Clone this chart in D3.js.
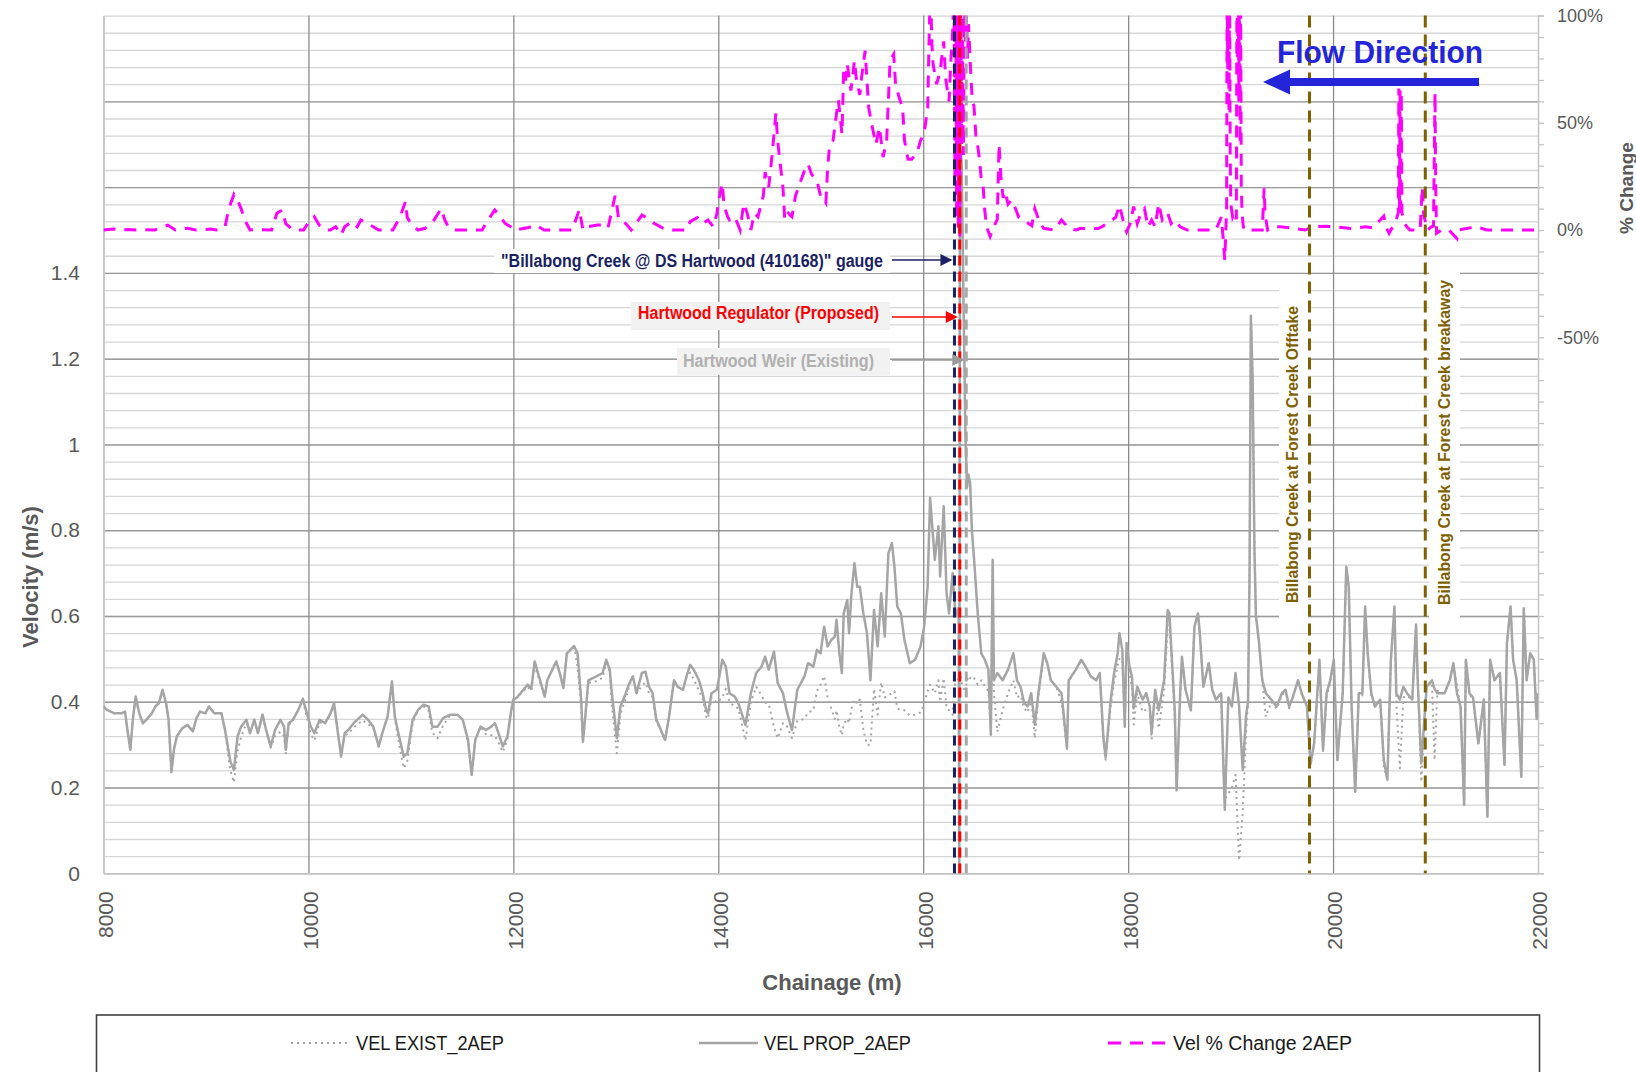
<!DOCTYPE html>
<html>
<head>
<meta charset="utf-8">
<script src="https://cdn.jsdelivr.net/npm/d3@7"></script>
<style>
  body { margin: 0; background: #ffffff; }
  svg { display: block; }
  text { font-family: "Liberation Sans", Arial, sans-serif; }
</style>
</head>
<body>
<svg id="chart" width="1636" height="1072"></svg>
<script>
// ---- Data -------------------------------------------------------------
// Chainage (m) of the velocity profile points
const chainage = [
  8000,8035,8105,8175,8210,8238,8262,8286,8314,8349,8384,8419,8471,8506,8541,8576,8611,8635,8663,8687,
  8715,8768,8820,8872,8907,8942,8994,9029,9081,9151,9186,9238,9273,9308,9343,9395,9430,9472,9507,9552,
  9587,9632,9674,9727,9762,9779,9807,9849,9901,9946,9988,10023,10058,10110,10163,10215,10250,10284,10319,10354,
  10389,10441,10494,10529,10581,10633,10686,10721,10773,10815,10843,10877,10930,10965,11017,11070,11122,11174,11209,11261,
  11314,11384,11454,11506,11558,11593,11628,11680,11733,11785,11820,11855,11897,11942,11980,12000,12035,12140,12175,12208,
  12240,12306,12331,12418,12453,12488,12522,12592,12627,12662,12679,12700,12732,12784,12871,12906,12941,12958,13010,13045,
  13098,13133,13167,13202,13254,13289,13324,13359,13394,13481,13516,13568,13603,13655,13690,13725,13760,13812,13847,13882,
  13900,13934,13986,14039,14074,14109,14161,14196,14265,14318,14370,14422,14457,14492,14544,14579,14631,14666,14719,14771,
  14841,14876,14928,14963,14998,15033,15067,15102,15137,15154,15182,15206,15224,15259,15276,15300,15329,15356,15381,15416,
  15451,15485,15520,15555,15590,15625,15660,15695,15719,15747,15782,15817,15869,15921,15974,16009,16043,16067,16113,16148,
  16165,16200,16228,16252,16287,16310,16330,16346,16352,16358,16375,16395,16412,16428,16440,16458,16475,16497,16532,16567,
  16601,16636,16660,16678,16690,16723,16775,16828,16880,16915,16950,16985,17019,17054,17089,17124,17176,17211,17246,17298,
  17350,17403,17420,17490,17542,17584,17636,17688,17723,17758,17780,17828,17863,17898,17915,17943,17967,17985,18013,18037,
  18054,18089,18142,18176,18211,18229,18264,18298,18351,18386,18403,18420,18455,18473,18508,18525,18560,18612,18647,18682,
  18699,18734,18786,18821,18856,18908,18943,18978,19013,19048,19083,19118,19152,19170,19185,19198,19215,19233,19247,19275,
  19309,19344,19397,19449,19501,19536,19571,19606,19658,19693,19745,19780,19815,19867,19902,19937,19972,20007,20042,20094,
  20129,20153,20181,20216,20251,20286,20313,20338,20373,20408,20460,20495,20530,20564,20599,20617,20652,20686,20721,20773,
  20810,20826,20861,20913,20965,20990,21018,21088,21140,21174,21209,21244,21279,21296,21331,21366,21418,21471,21506,21533,
  21575,21628,21673,21697,21732,21757,21792,21837,21861,21889,21924,21959,21987,22000
];

// VEL PROP_2AEP (m/s)
const velProp = [
  .389,.381,.373,.373,.377,.327,.288,.358,.412,.373,.350,.358,.373,.389,.397,.428,.397,.358,.237,.288,
  .319,.338,.346,.331,.362,.377,.373,.389,.373,.373,.334,.261,.241,.319,.342,.358,.327,.358,.327,.370,
  .334,.296,.334,.358,.342,.288,.350,.358,.381,.407,.370,.342,.327,.358,.350,.373,.397,.334,.272,.327,
  .334,.350,.362,.370,.358,.342,.296,.327,.366,.447,.366,.327,.272,.280,.358,.381,.393,.389,.342,.342,
  .362,.370,.370,.358,.311,.230,.311,.342,.334,.342,.350,.327,.296,.319,.381,.405,.410,.440,.430,.494,
  .467,.412,.450,.494,.467,.432,.513,.530,.513,.404,.307,.360,.450,.456,.467,.498,.475,.428,.315,.389,
  .420,.444,.459,.420,.467,.470,.435,.420,.360,.311,.360,.450,.435,.428,.459,.486,.475,.450,.420,.380,
  .373,.420,.428,.498,.482,.420,.412,.397,.346,.420,.467,.482,.505,.475,.517,.444,.420,.380,.334,.428,
  .459,.490,.482,.521,.513,.575,.529,.544,.552,.591,.513,.467,.606,.637,.560,.653,.723,.668,.668,.606,
  .560,.450,.614,.529,.653,.552,.746,.770,.715,.622,.606,.544,.490,.498,.529,.575,.668,.876,.731,.809,
  .692,.856,.653,.606,.700,.620,.600,.620,0,1.70,1.66,1.30,1.02,.900,.930,.910,.800,.731,.606,.513,
  .498,.475,.323,.731,.450,.467,.450,.475,.513,.450,.435,.397,.389,.420,.346,.420,.513,.490,.450,.435,
  .420,.292,.450,.475,.498,.482,.459,.450,.467,.319,.270,.400,.467,.513,.560,.521,.342,.537,.482,.459,
  .385,.435,.405,.420,.389,.327,.428,.380,.450,.614,.606,.529,.380,.195,.420,.505,.428,.380,.575,.606,
  .560,.435,.490,.428,.405,.420,.148,.410,.389,.467,.389,.241,.370,.400,.700,1.30,1.15,.750,.600,.544,
  .450,.420,.405,.389,.420,.428,.389,.410,.450,.420,.389,.256,.303,.498,.288,.420,.450,.498,.264,.420,
  .715,.668,.389,.190,.420,.420,.622,.513,.420,.389,.405,.264,.218,.498,.622,.420,.405,.435,.420,.405,
  .580,.450,.256,.435,.450,.430,.420,.420,.450,.490,.420,.389,.160,.498,.420,.410,.303,.405,.132,.498,
  .450,.467,.253,.537,.622,.498,.450,.225,.618,.450,.513,.498,.360,.420
];

// VEL EXIST_2AEP (m/s)
const velExist = [
  .389,.381,.373,.373,.377,.325,.285,.358,.410,.373,.350,.358,.373,.389,.397,.425,.392,.356,.232,.285,
  .318,.338,.345,.331,.362,.377,.373,.389,.373,.373,.330,.240,.212,.285,.318,.350,.327,.358,.327,.370,
  .334,.293,.320,.330,.320,.280,.345,.358,.381,.405,.360,.325,.310,.352,.350,.373,.393,.335,.278,.322,
  .325,.340,.350,.357,.348,.337,.296,.327,.366,.447,.362,.312,.245,.262,.350,.381,.390,.378,.328,.315,
  .345,.368,.370,.358,.305,.228,.311,.342,.324,.322,.320,.305,.283,.312,.376,.405,.410,.435,.425,.485,
  .460,.412,.450,.494,.467,.432,.513,.530,.480,.386,.307,.355,.445,.445,.456,.490,.470,.400,.280,.372,
  .408,.440,.459,.420,.437,.445,.420,.410,.355,.311,.360,.450,.435,.428,.459,.468,.452,.425,.408,.365,
  .360,.410,.398,.410,.430,.400,.388,.385,.310,.400,.435,.415,.398,.395,.340,.315,.350,.345,.315,.355,
  .360,.375,.380,.425,.440,.460,.410,.385,.360,.380,.340,.322,.348,.360,.350,.385,.405,.395,.405,.335,
  .300,.300,.430,.370,.445,.410,.415,.420,.425,.385,.380,.380,.368,.370,.375,.395,.425,.440,.420,.450,
  .400,.455,.385,.380,.370,.440,.450,.455,.450,.470,.445,.430,.430,.450,.460,.455,.460,.455,.440,.450,
  .435,.425,.330,.720,.420,.330,.380,.420,.450,.410,.415,.385,.375,.408,.315,.410,.510,.490,.450,.435,
  .400,.290,.448,.475,.498,.482,.459,.450,.462,.312,.265,.385,.445,.485,.500,.500,.345,.530,.465,.435,
  .347,.420,.376,.382,.382,.312,.420,.338,.425,.570,.580,.515,.363,.190,.413,.500,.428,.380,.575,.606,
  .560,.435,.490,.428,.405,.396,.172,.185,.200,.230,.030,.140,.330,.400,.700,1.30,1.15,.750,.600,.544,
  .450,.365,.400,.384,.414,.428,.385,.410,.450,.420,.389,.252,.300,.490,.285,.412,.445,.490,.264,.420,
  .715,.665,.386,.190,.420,.415,.612,.510,.415,.389,.400,.248,.218,.498,.600,.400,.245,.410,.414,.405,
  .580,.450,.213,.435,.445,.264,.425,.420,.450,.490,.438,.389,.160,.495,.418,.405,.300,.405,.132,.498,
  .450,.467,.253,.537,.622,.498,.450,.225,.618,.450,.513,.498,.360,.420
];

// Vel % Change 2AEP (secondary axis)
const pctChainage = [
  8000,8100,8160,8240,8320,8380,8500,8560,8628,8700,8760,8820,8900,9000,9050,9100,9186,9221,9273,9308,
  9343,9378,9430,9500,9640,9692,9744,9779,9814,9849,9953,10005,10057,10109,10162,10214,10266,10319,10354,10423,
  10476,10511,10580,10633,10685,10825,10877,10912,10947,10964,10999,11069,11139,11191,11226,11296,11331,11365,11417,11696,
  11731,11818,11870,11922,11974,12009,12150,12218,12300,12455,12575,12644,12662,12679,12714,12819,12871,12923,12993,13010,
  13028,13098,13150,13255,13307,13377,13464,13551,13690,13725,13795,13847,13899,13952,13987,14004,14039,14056,14091,14109,
  14161,14213,14248,14283,14318,14353,14387,14440,14457,14492,14527,14562,14579,14597,14631,14649,14684,14719,14754,14788,
  14841,14876,14910,14963,14998,15050,15067,15085,15120,15154,15172,15207,15224,15242,15259,15294,15329,15346,15381,15398,
  15433,15468,15503,15538,15573,15608,15643,15677,15712,15730,15764,15799,15817,15852,15887,15939,15974,16009,16044,16061,
  16071,16085,16096,16131,16165,16200,16218,16252,16270,16287,16300,16310,16318,16326,16334,16342,16350,16358,16366,16374,
  16382,16392,16402,16412,16422,16432,16442,16462,16479,16495,16514,16530,16549,16570,16584,16601,16619,16653,16688,16723,
  16740,16758,16780,16800,16828,16863,16900,16932,17002,17060,17089,17141,17176,17281,17350,17420,17490,17532,17706,17741,
  17793,17845,17880,17915,17950,17985,18020,18054,18089,18124,18159,18194,18229,18264,18298,18333,18386,18420,18455,18508,
  18577,18856,18909,18926,18943,18961,18966,18972,18978,18984,18990,18996,19002,19020,19040,19056,19062,19068,19074,19080,
  19086,19092,19098,19104,19112,19121,19130,19187,19309,19327,19337,19362,19414,19484,19588,19728,19798,19937,20007,20181,
  20320,20390,20495,20530,20547,20617,20636,20642,20648,20654,20660,20666,20672,20685,20700,20720,20750,20850,20870,20885,
  20920,20960,20980,20995,21002,21010,21060,21130,21209,21225,21300,21400,21500,21800,22000
];
const pctChange = [
  0,0.5,0,0.3,0,0.2,0,1,2.3,0,0.5,0.8,0,0.2,0.5,0,1.5,9.6,16.6,14,
  10,4.7,0,0.2,0,7.8,9.3,3,1.5,0,0,3.9,6.2,2,0,0,1.5,-2.3,1.5,3.9,
  1.5,4.7,3,1.5,0,0,4.7,8.5,13.2,6,3,0,0.8,3,4.7,10,4.7,1.5,0,0,
  3,9.3,6.2,3,1.5,0,1.2,2.3,0,0,0,9.6,4.7,0,1.5,2.3,2.3,0.8,16,11.6,
  4.7,3,0,7,5.5,3,0.8,0,0,3.9,5.8,3,4.7,1.5,7.8,14,21.8,11.6,6.2,4.7,
  6.2,0,12.4,7.8,0,7.8,6.2,16,27,20,35.8,54.5,42,34,20,4.7,7.8,6.2,16,20.6,
  27.7,30.8,26,23,16,12.5,29,38.6,41.7,54.5,60.6,44.8,74.4,69.7,77.5,65,79,71,63,71,
  83.6,57,48,40,48,34,41.7,79,82,68,62,57,42,33,33,35.8,41.7,45,57,97.7,
  112,86.8,77.5,68,74,88,71,60,79,92,112,25,115,5,110,0,120,-3,112,40,
  115,35,105,88,100,80,96,75,60,58,44,40,33,22,21,9,1.5,-3,1.5,5,
  40,25,15,18,12,14,10,6,3.9,2,10,3,0.8,0,4.7,0.8,0,0.7,0.7,1.5,
  3,4.7,6,11.6,4.7,-0.8,3,11,3,7.8,10,1.5,4.7,1.5,12.4,4.7,7.8,3,4.7,1.5,
  0,0,6,-3,-14,10,118,75,120,55,118,35,12,6,8,5,120,80,122,60,
  120,40,112,20,8,3,0,0,0,19.5,7,0,1.5,1.5,1,0,1.5,1.8,1.5,0.7,
  1.5,1,6.5,0,-1.5,4.7,8,66,10,66,6,64,8,6,3,1.5,0,0,20,7,
  0,1.5,2,64,20,-1.5,0,0,-4,0,0.7,1.5,0,0,0
];

// Axis ticks and labels
const chainageTicks = [8000, 10000, 12000, 14000, 16000, 18000, 20000, 22000];
const velTickLabels = [0, 0.2, 0.4, 0.6, 0.8, 1, 1.2, 1.4];
const pctTickLabels = [-50, 0, 50, 100];

// Reference locations along the creek (chainage, m)
const structureNames = ['"Billabong Creek @ DS Hartwood (410168)" gauge', "Hartwood Regulator (Proposed)", "Hartwood Weir (Existing)"];
const structureChainage = [16305, 16357, 16420];
const siteNames = ["Billabong Creek at Forest Creek Offtake", "Billabong Creek at Forest Creek breakaway"];
const siteChainage = [19770, 20900];

const seriesNames = ["VEL EXIST_2AEP", "VEL PROP_2AEP", "Vel % Change 2AEP"];

// ---- Layout -----------------------------------------------------------
const svg = d3.select("#chart");
const plot = { left: 103.5, right: 1538, top: 15.6, bottom: 873.3 };
const pw = plot.right - plot.left, ph = plot.bottom - plot.top;
const axisGrey = "#595959";

const x = d3.scaleLinear().domain([8000, 22000]).range([plot.left, plot.right]);
const yVel = d3.scaleLinear().domain([0, 2]).range([plot.bottom, plot.top]);
const yPct = d3.scaleLinear().domain([-300, 100]).range([plot.bottom, plot.top]);

svg.append("rect").attr("width", 1636).attr("height", 1072).attr("fill", "#fff");

// ---- Gridlines --------------------------------------------------------
const gMinor = svg.append("g").attr("transform", `translate(${plot.left},0)`)
  .call(d3.axisLeft(yVel).tickValues(d3.range(0, 51).map(i => i * 0.04)).tickSize(-pw).tickFormat(""));
gMinor.select(".domain").remove();
gMinor.selectAll("line").attr("stroke", "#d6d6d6").attr("stroke-width", 1.3);

const gMajor = svg.append("g").attr("transform", `translate(${plot.left},0)`)
  .call(d3.axisLeft(yVel).tickValues(d3.range(1, 10).map(i => i * 0.2)).tickSize(-pw).tickFormat(""));
gMajor.select(".domain").remove();
gMajor.selectAll("line").attr("stroke", "#9c9c9c").attr("stroke-width", 1.4);

const gVert = svg.append("g").attr("transform", `translate(0,${plot.bottom})`)
  .call(d3.axisBottom(x).tickValues(chainageTicks.slice(1, -1)).tickSize(-ph).tickFormat(""));
gVert.select(".domain").remove();
gVert.selectAll("line").attr("stroke", "#8c8c8c").attr("stroke-width", 1.3);

// ---- Axes -------------------------------------------------------------
const gLeft = svg.append("g").attr("transform", `translate(${plot.left},0)`)
  .call(d3.axisLeft(yVel).tickValues(velTickLabels).tickSize(0).tickPadding(23.5).tickFormat(d3.format("")));
gLeft.select(".domain").attr("stroke", "#c4c4c4").attr("stroke-width", 1.8);
gLeft.selectAll("text").attr("font-size", 21).attr("fill", axisGrey).attr("font-family", "Liberation Sans, Arial, sans-serif");

const gBottom = svg.append("g").attr("transform", `translate(0,${plot.bottom})`)
  .call(d3.axisBottom(x).tickValues(chainageTicks).tickSize(0).tickFormat(d3.format("d")));
gBottom.select(".domain").attr("stroke", "#c4c4c4").attr("stroke-width", 1.8);
gBottom.selectAll("text")
  .attr("transform", "rotate(-90)").attr("x", -18).attr("y", 1.5).attr("dy", "0.35em")
  .attr("text-anchor", "end").attr("font-size", 21).attr("fill", axisGrey)
  .attr("font-family", "Liberation Sans, Arial, sans-serif");

const gRight = svg.append("g").attr("transform", `translate(${plot.right},0)`)
  .call(d3.axisRight(yPct).tickValues(d3.range(-300, 101, 10)).tickSize(6).tickPadding(13)
    .tickFormat(d => pctTickLabels.includes(d) ? d + "%" : ""));
gRight.select(".domain").attr("stroke", "#c4c4c4").attr("stroke-width", 1.5);
gRight.selectAll("line").attr("stroke", "#c4c4c4").attr("stroke-width", 1.3);
gRight.selectAll("text").attr("font-size", 18).attr("fill", axisGrey).attr("font-family", "Liberation Sans, Arial, sans-serif");

// Axis titles
svg.append("text").attr("transform", "translate(30,577) rotate(-90)")
  .attr("text-anchor", "middle").attr("dy", "0.35em")
  .attr("font-size", 22).attr("font-weight", "bold").attr("fill", axisGrey).text("Velocity (m/s)");
svg.append("text").attr("x", 832).attr("y", 990)
  .attr("text-anchor", "middle").attr("font-size", 22).attr("font-weight", "bold").attr("fill", axisGrey).text("Chainage (m)");
svg.append("text").attr("transform", "translate(1626,188) rotate(-90)")
  .attr("text-anchor", "middle").attr("dy", "0.35em")
  .attr("font-size", 19).attr("font-weight", "bold").attr("fill", axisGrey).text("% Change");

// ---- Site label boxes (behind the series) --------------------------------
const siteBoxes = [{ x: 1279, y: 288, w: 29, h: 334 }, { x: 1429, y: 268, w: 31, h: 354 }];
siteBoxes.forEach(b => svg.append("rect").attr("x", b.x).attr("y", b.y).attr("width", b.w).attr("height", b.h).attr("fill", "#fff"));

// ---- Series -----------------------------------------------------------
svg.append("clipPath").attr("id", "plotClip").append("rect")
  .attr("x", plot.left).attr("y", plot.top).attr("width", pw).attr("height", ph);
const gSeries = svg.append("g").attr("clip-path", "url(#plotClip)");

const velLine = d3.line().x((d, i) => x(chainage[i])).y(d => yVel(d));
const pctLine = d3.line().x((d, i) => x(pctChainage[i])).y(d => yPct(d));

gSeries.append("path").datum(velExist).attr("d", velLine)
  .attr("fill", "none").attr("stroke", "#a5a5a5").attr("stroke-width", 2)
  .attr("stroke-dasharray", "2,4").attr("stroke-linejoin", "round");
gSeries.append("path").datum(velProp).attr("d", velLine)
  .attr("fill", "none").attr("stroke", "#a5a5a5").attr("stroke-width", 2.5)
  .attr("stroke-linejoin", "round");
gSeries.append("path").datum(pctChange).attr("d", pctLine)
  .attr("fill", "none").attr("stroke", "#ff00ff").attr("stroke-width", 3)
  .attr("stroke-dasharray", "12,9");

// ---- Structure and site markers ----------------------------------------
const structureColours = ["#1b1f63", "#ff0000", "#a6a6a6"];
structureChainage.forEach((c, i) => {
  svg.append("line").attr("x1", x(c)).attr("x2", x(c)).attr("y1", plot.top).attr("y2", plot.bottom)
    .attr("stroke", structureColours[i]).attr("stroke-width", 3).attr("stroke-dasharray", "10,6");
});
siteChainage.forEach(c => {
  svg.append("line").attr("x1", x(c)).attr("x2", x(c)).attr("y1", plot.top).attr("y2", plot.bottom)
    .attr("stroke", "#7f6000").attr("stroke-width", 3).attr("stroke-dasharray", "12,7");
});

// Site labels
const siteText = [{ cx: 1292, bottom: 603, len: 297 }, { cx: 1444, bottom: 605, len: 325 }];
siteNames.forEach((name, i) => {
  const s = siteText[i];
  svg.append("text").attr("transform", `translate(${s.cx},${s.bottom}) rotate(-90)`)
    .attr("dy", "0.36em").attr("font-size", 17).attr("font-weight", "bold").attr("fill", "#7f6000")
    .attr("textLength", s.len).attr("lengthAdjust", "spacingAndGlyphs").text(name);
});

// Structure call-outs
const callouts = [
  { box: [494, 249, 396, 24], boxFill: "#ffffff", textX: 883, textY: 261, len: 382, anchor: "end", colour: "#1b1f63", arrowY: 260 },
  { box: [631, 302, 259, 28], boxFill: "#f2f2f2", textX: 638, textY: 313, len: 241, anchor: "start", colour: "#ff0000", arrowY: 317 },
  { box: [677, 348, 213, 27], boxFill: "#f2f2f2", textX: 683, textY: 361, len: 191, anchor: "start", colour: "#b0b0b0", arrowY: 360 }
];
callouts.forEach((c, i) => {
  svg.append("rect").attr("x", c.box[0]).attr("y", c.box[1]).attr("width", c.box[2]).attr("height", c.box[3]).attr("fill", c.boxFill);
  svg.append("text").attr("x", c.textX).attr("y", c.textY).attr("dy", "0.36em")
    .attr("text-anchor", c.anchor).attr("font-size", 18).attr("font-weight", "bold").attr("fill", c.colour)
    .attr("textLength", c.len).attr("lengthAdjust", "spacingAndGlyphs").text(structureNames[i]);
  const tip = x(structureChainage[i]) - 2;
  svg.append("line").attr("x1", 892).attr("x2", tip - 10).attr("y1", c.arrowY).attr("y2", c.arrowY)
    .attr("stroke", i === 2 ? "#9a9a9a" : c.colour).attr("stroke-width", 1.6);
  svg.append("path")
    .attr("d", `M${tip},${c.arrowY} L${tip - 12},${c.arrowY - 6} L${tip - 12},${c.arrowY + 6} Z`)
    .attr("fill", i === 2 ? "#9a9a9a" : c.colour);
});

// Flow direction
const flowBlue = "#2424d8";
svg.append("text").attr("x", 1277).attr("y", 63).attr("font-size", 32).attr("font-weight", "bold")
  .attr("fill", flowBlue).attr("textLength", 206).attr("lengthAdjust", "spacingAndGlyphs").text("Flow Direction");
svg.append("rect").attr("x", 1287).attr("y", 78).attr("width", 192).attr("height", 8).attr("fill", flowBlue);
svg.append("path").attr("d", "M1263,82 L1290,69.5 L1290,94.5 Z").attr("fill", flowBlue);

// ---- Legend -----------------------------------------------------------
svg.append("rect").attr("x", 96.5).attr("y", 1015).attr("width", 1443).attr("height", 80)
  .attr("fill", "#fff").attr("stroke", "#404040").attr("stroke-width", 1.6);
const legendY = 1043;
const legendItems = [
  { x1: 291, x2: 348, tx: 356, len: 148, stroke: "#a5a5a5", width: 2, dash: "2,4" },
  { x1: 699, x2: 758, tx: 764, len: 147, stroke: "#a5a5a5", width: 2.5, dash: null },
  { x1: 1108, x2: 1167, tx: 1173, len: 179, stroke: "#ff00ff", width: 3, dash: "13,9" }
];
legendItems.forEach((it, i) => {
  const l = svg.append("line").attr("x1", it.x1).attr("x2", it.x2).attr("y1", legendY).attr("y2", legendY)
    .attr("stroke", it.stroke).attr("stroke-width", it.width);
  if (it.dash) l.attr("stroke-dasharray", it.dash);
  svg.append("text").attr("x", it.tx).attr("y", legendY).attr("dy", "0.36em")
    .attr("font-size", 20).attr("fill", "#1a1a1a")
    .attr("textLength", it.len).attr("lengthAdjust", "spacingAndGlyphs").text(seriesNames[i]);
});
</script>
</body>
</html>
